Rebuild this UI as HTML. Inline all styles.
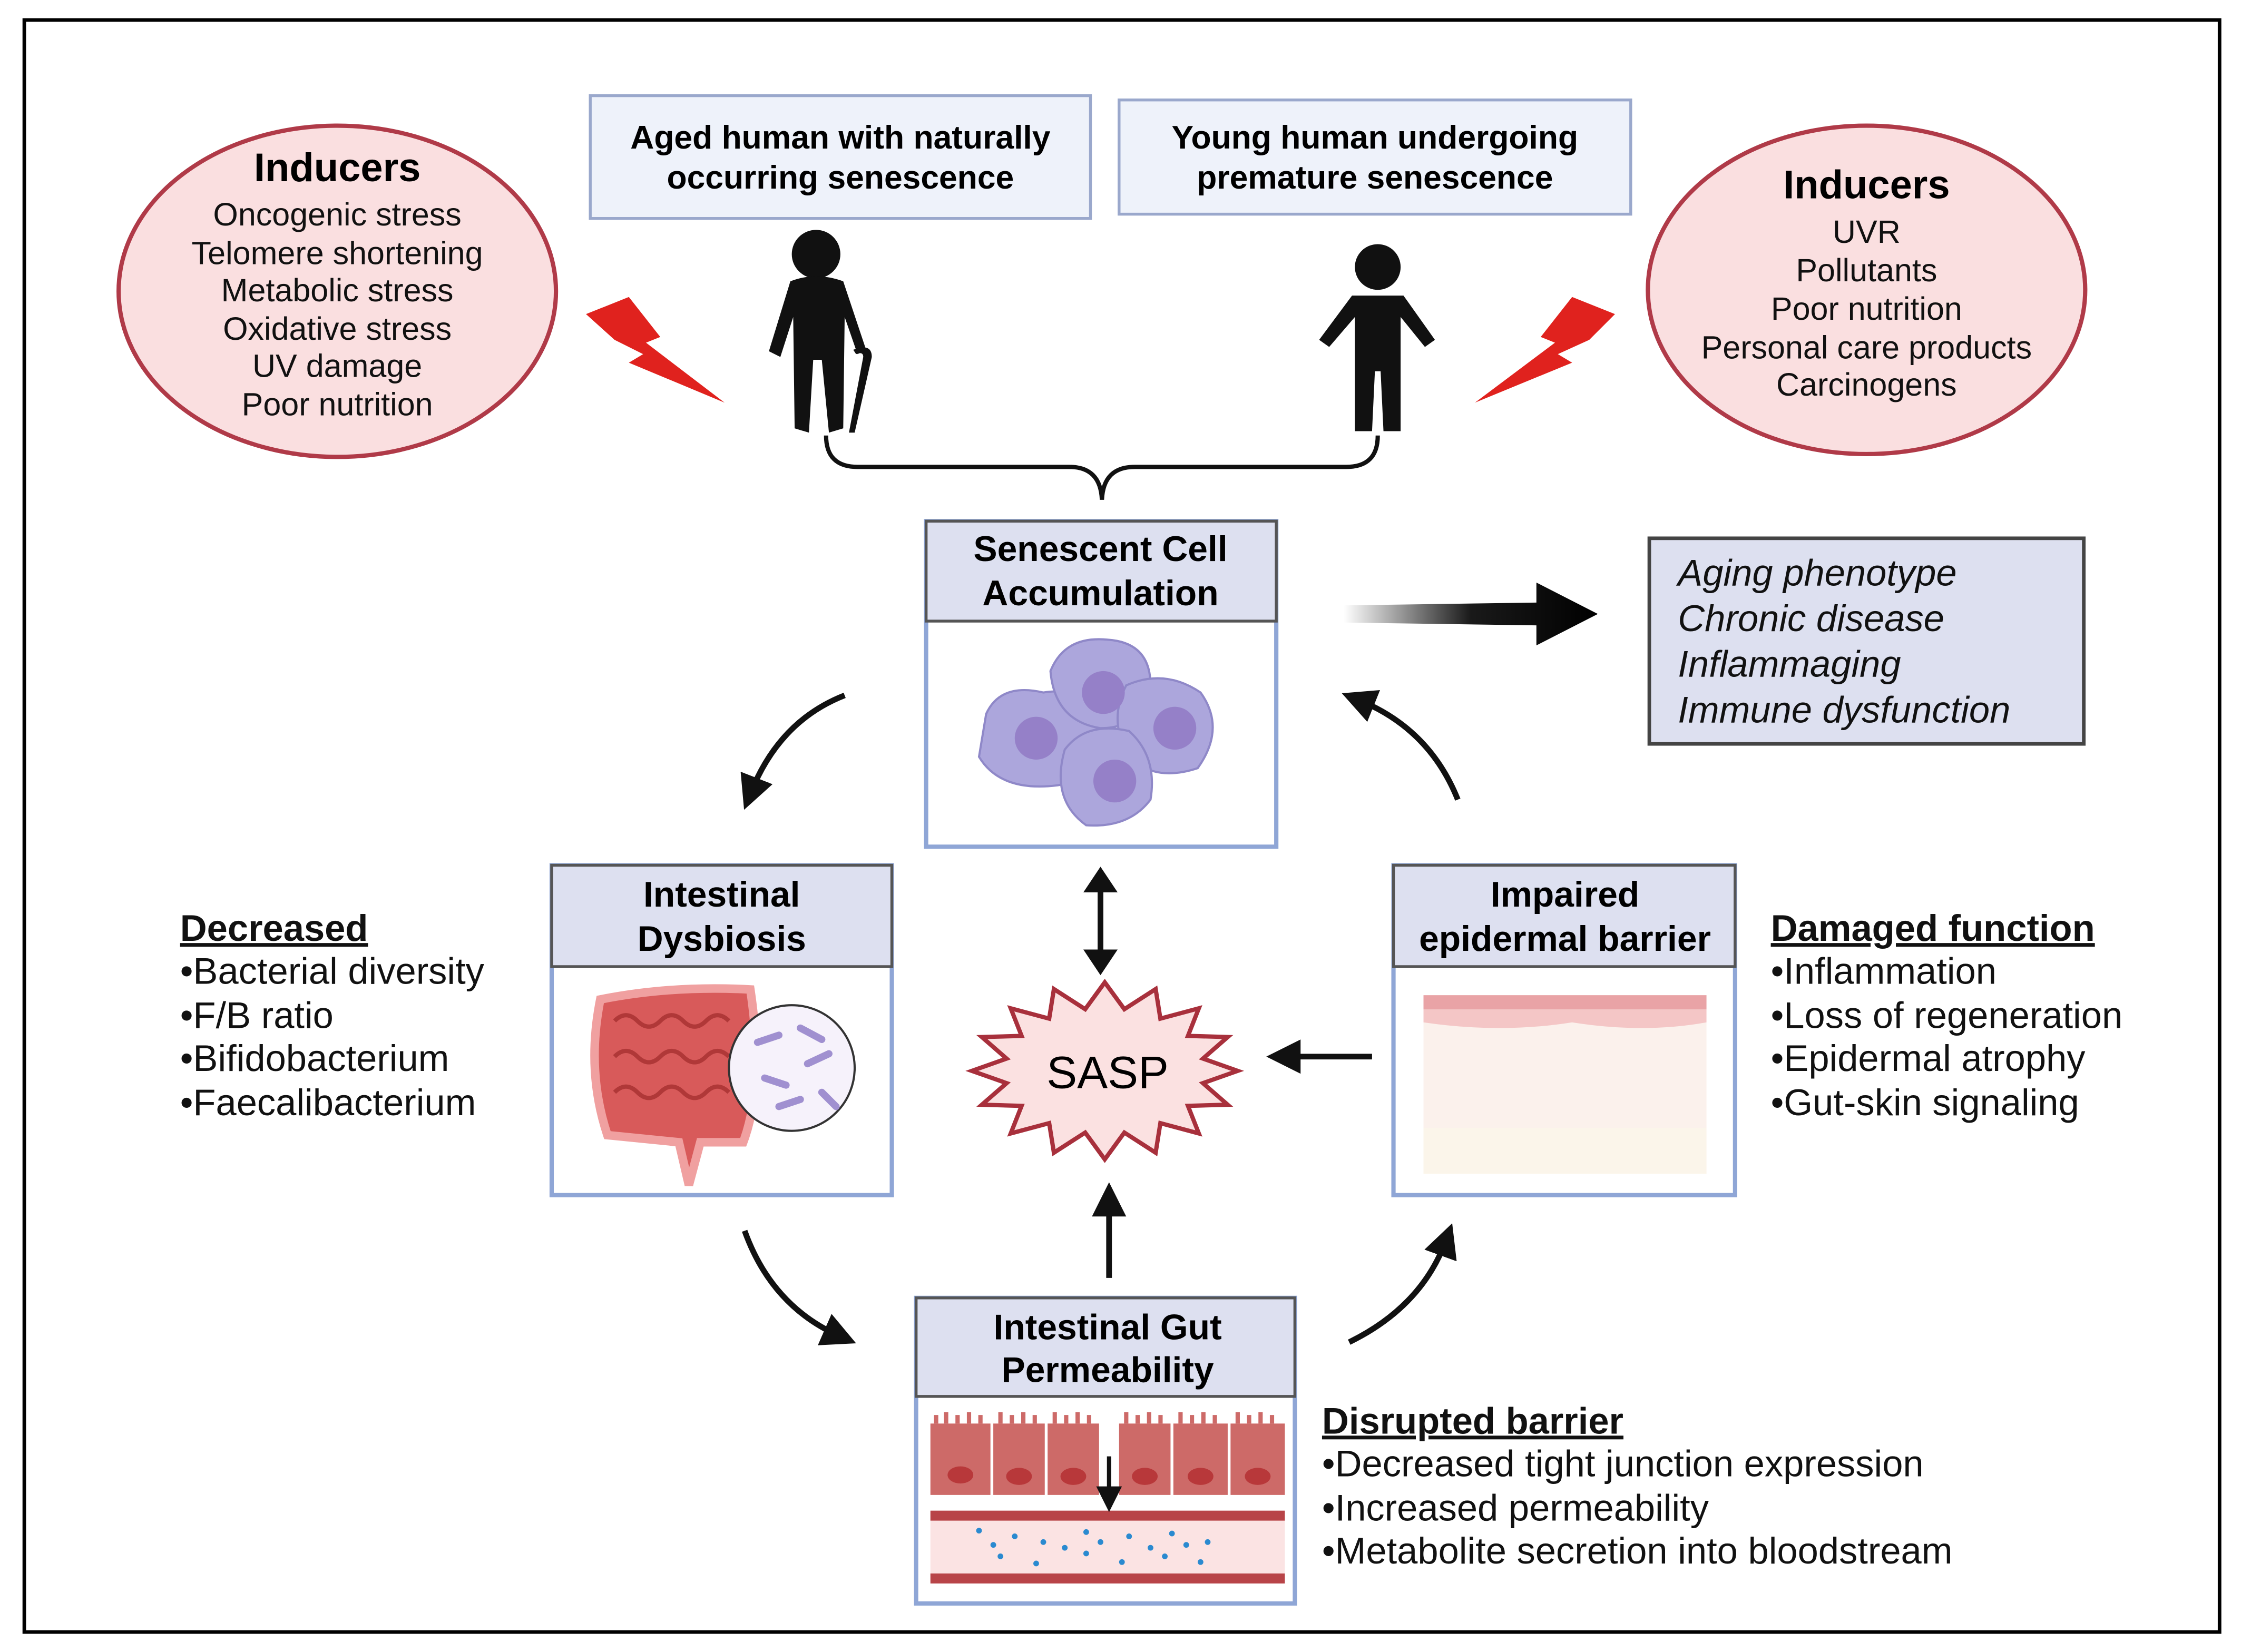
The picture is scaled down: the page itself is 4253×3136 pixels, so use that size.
<!DOCTYPE html>
<html><head><meta charset="utf-8">
<style>
html,body{margin:0;padding:0;background:#fff;}
svg{display:block;}
text{font-family:"Liberation Sans",sans-serif;}
</style></head>
<body>
<svg width="4253" height="3136" viewBox="0 0 1568 1157" preserveAspectRatio="none" xmlns="http://www.w3.org/2000/svg">
<defs>
<linearGradient id="ga" x1="0" x2="1" y1="0" y2="0">
<stop offset="0" stop-color="#000" stop-opacity="0"/>
<stop offset="0.5" stop-color="#000" stop-opacity="0.9"/>
<stop offset="1" stop-color="#000"/>
</linearGradient>
<marker id="ah" markerWidth="6" markerHeight="6" refX="3" refY="3" orient="auto" markerUnits="strokeWidth">
<path d="M0,0 L6,3 L0,6 z" fill="#111"/>
</marker>
</defs>
<rect x="0" y="0" width="1568" height="1157" fill="#fff"/>
<rect x="17" y="14" width="1536" height="1129" fill="none" stroke="#000" stroke-width="2.5"/>

<ellipse cx="236" cy="204" rx="153" ry="116" fill="#fadfe0" stroke="#b03a48" stroke-width="3"/>
<text x="236" y="127" font-size="28" font-weight="bold" text-anchor="middle">Inducers</text>
<g font-size="22.5" text-anchor="middle" fill="#111">
<text x="236" y="158">Oncogenic stress</text>
<text x="236" y="185">Telomere shortening</text>
<text x="236" y="211">Metabolic stress</text>
<text x="236" y="238">Oxidative stress</text>
<text x="236" y="264">UV damage</text>
<text x="236" y="291">Poor nutrition</text>
</g>
<ellipse cx="1306" cy="203" rx="153" ry="115" fill="#fadfe0" stroke="#b03a48" stroke-width="3"/>
<text x="1306" y="139" font-size="28" font-weight="bold" text-anchor="middle">Inducers</text>
<g font-size="22.5" text-anchor="middle" fill="#111">
<text x="1306" y="170">UVR</text>
<text x="1306" y="197">Pollutants</text>
<text x="1306" y="224">Poor nutrition</text>
<text x="1306" y="251">Personal care products</text>
<text x="1306" y="277">Carcinogens</text>
</g>

<rect x="413" y="67" width="350" height="86" fill="#eef2fa" stroke="#9aa8cc" stroke-width="2"/>
<text x="588" y="104" font-size="23" font-weight="bold" text-anchor="middle">Aged human with naturally</text>
<text x="588" y="132" font-size="23" font-weight="bold" text-anchor="middle">occurring senescence</text>
<rect x="783" y="70" width="358" height="80" fill="#eef2fa" stroke="#9aa8cc" stroke-width="2"/>
<text x="962" y="104" font-size="23" font-weight="bold" text-anchor="middle">Young human undergoing</text>
<text x="962" y="132" font-size="23" font-weight="bold" text-anchor="middle">premature senescence</text>

<polygon points="410,220 440,208 462,236 452,240 507,282 440,254 450,248 430,238" fill="#e0221e"/>
<polygon points="1130,220 1100,208 1078,236 1088,240 1032,282 1100,254 1090,248 1112,238" fill="#e0221e"/>

<g fill="#111">
<circle cx="571" cy="178" r="17"/>
<path d="M553,197 Q571,190 590,197 L606,245 L600,248 L591,222 L590,300 L580,303 L575,252 L569,252 L566,303 L556,300 L555,222 L546,250 L538,246 Z"/>
<path d="M597,245 Q610,240 610,250 L598,303 L594,303 L604,250 Q604,246 599,248 Z"/>
</g>
<g fill="#111">
<circle cx="964" cy="187" r="16"/>
<path d="M946,207 L982,207 L1004,238 L997,243 L980,222 L980,302 L968,302 L966,260 L962,260 L960,302 L948,302 L948,222 L930,243 L923,238 Z"/>
</g>

<path d="M578,305 Q578,327 600,327 L748,327 Q770,327 771,350 Q772,327 794,327 L942,327 Q964,327 964,305" fill="none" stroke="#111" stroke-width="3"/>

<rect x="648" y="365" width="245" height="228" fill="#fff" stroke="#8fa6d6" stroke-width="3"/>
<rect x="648" y="365" width="245" height="70" fill="#dde0f0" stroke="#555" stroke-width="2"/>
<text x="770" y="393" font-size="25" font-weight="bold" text-anchor="middle">Senescent Cell</text>
<text x="770" y="424" font-size="25" font-weight="bold" text-anchor="middle">Accumulation</text>
<g fill="#aca6dc" stroke="#8f88c8" stroke-width="1.5">
<path d="M690,500 Q700,478 730,485 Q760,480 768,510 Q770,545 740,550 Q700,555 685,530 Z"/>
<path d="M735,470 Q745,445 775,448 Q805,450 805,480 Q800,510 770,510 Q738,505 735,470 Z"/>
<path d="M788,480 Q815,468 840,485 Q858,510 838,538 Q808,548 790,530 Q775,505 788,480 Z"/>
<path d="M745,525 Q760,505 790,512 Q810,530 805,560 Q790,580 760,578 Q735,560 745,525 Z"/>
</g>
<g fill="#9580c8">
<circle cx="725" cy="517" r="15"/><circle cx="772" cy="485" r="15"/>
<circle cx="822" cy="510" r="15"/><circle cx="780" cy="547" r="15"/>
</g>

<rect x="1154" y="377" width="304" height="144" fill="#dde0f0" stroke="#444" stroke-width="2.5"/>
<g font-size="26" font-style="italic" fill="#111">
<text x="1174" y="410">Aging phenotype</text>
<text x="1174" y="442">Chronic disease</text>
<text x="1174" y="474">Inflammaging</text>
<text x="1174" y="506">Immune dysfunction</text>
</g>
<polygon points="940,424 1075,422 1075,408 1118,430 1075,452 1075,438 940,436" fill="url(#ga)"/>

<rect x="386" y="606" width="238" height="231" fill="#fff" stroke="#8fa6d6" stroke-width="3"/>
<rect x="386" y="606" width="238" height="71" fill="#dde0f0" stroke="#555" stroke-width="2"/>
<text x="505" y="635" font-size="25" font-weight="bold" text-anchor="middle">Intestinal</text>
<text x="505" y="666" font-size="25" font-weight="bold" text-anchor="middle">Dysbiosis</text>
<path d="M420,700 Q470,690 525,693 Q535,760 520,800 L490,800 L482,830 L475,800 L425,795 Q410,750 420,700 Z" fill="#d85a5a" stroke="#f0a0a0" stroke-width="6"/>
<g stroke="#b03838" stroke-width="3" fill="none">
<path d="M430,715 q8,-8 16,0 t16,0 t16,0 t16,0 t16,0"/>
<path d="M430,740 q8,-8 16,0 t16,0 t16,0 t16,0 t16,0"/>
<path d="M430,765 q8,-8 16,0 t16,0 t16,0 t16,0 t16,0"/>
</g>
<circle cx="554" cy="748" r="44" fill="#f6f2fb" stroke="#333" stroke-width="1.5"/>
<g stroke="#a090d0" stroke-width="5" stroke-linecap="round">
<line x1="530" y1="730" x2="545" y2="725"/><line x1="560" y1="720" x2="575" y2="728"/>
<line x1="535" y1="755" x2="550" y2="760"/><line x1="565" y1="745" x2="580" y2="738"/>
<line x1="545" y1="775" x2="560" y2="770"/><line x1="575" y1="765" x2="585" y2="775"/>
</g>

<rect x="975" y="606" width="239" height="231" fill="#fff" stroke="#8fa6d6" stroke-width="3"/>
<rect x="975" y="606" width="239" height="71" fill="#dde0f0" stroke="#555" stroke-width="2"/>
<text x="1095" y="635" font-size="25" font-weight="bold" text-anchor="middle">Impaired</text>
<text x="1095" y="666" font-size="25" font-weight="bold" text-anchor="middle">epidermal barrier</text>
<rect x="996" y="697" width="198" height="125" fill="#fbf1ec"/>
<rect x="996" y="697" width="198" height="10" fill="#e9a3a6"/>
<path d="M996,707 L1194,707 L1194,716 Q1150,724 1100,716 Q1050,724 996,716 Z" fill="#f4c6c6"/>
<rect x="996" y="790" width="198" height="32" fill="#fbf5ea"/>

<polygon points="866,750 841.7,758.6 859,773.7 831.2,774.5 838.8,793.8 811.9,786.6 808.6,807.3 786.7,793.2 773,812 759.3,793.2 737.4,807.3 734.1,786.6 707.2,793.8 714.8,774.5 687,773.7 704.3,758.6 680,750 704.3,741.4 687,726.3 714.8,725.5 707.2,706.2 734.1,713.4 737.4,692.7 759.3,706.8 773,688 786.7,706.8 808.6,692.7 811.9,713.4 838.8,706.2 831.2,725.5 859,726.3 841.7,741.4" fill="#fbe1e1" stroke="#a8303c" stroke-width="3"/>
<text x="775" y="762" font-size="32" text-anchor="middle">SASP</text>

<rect x="641" y="909" width="265" height="214" fill="#fff" stroke="#8fa6d6" stroke-width="3"/>
<rect x="641" y="909" width="265" height="69" fill="#dde0f0" stroke="#555" stroke-width="2"/>
<text x="775" y="938" font-size="25" font-weight="bold" text-anchor="middle">Intestinal Gut</text>
<text x="775" y="968" font-size="25" font-weight="bold" text-anchor="middle">Permeability</text>
<g fill="#cd6a68">
<rect x="651" y="997" width="42" height="50"/><rect x="695" y="997" width="36" height="50"/><rect x="733" y="997" width="36" height="50"/>
<rect x="783" y="997" width="36" height="50"/><rect x="821" y="997" width="38" height="50"/><rect x="861" y="997" width="38" height="50"/>
</g>
<g stroke="#cd6a68" stroke-width="3">
<path d="M655,997 v-6 M662,997 v-8 M670,997 v-6 M678,997 v-8 M686,997 v-6 M700,997 v-8 M708,997 v-6 M716,997 v-8 M724,997 v-6 M738,997 v-8 M746,997 v-6 M754,997 v-8 M762,997 v-6 M788,997 v-8 M796,997 v-6 M804,997 v-8 M812,997 v-6 M826,997 v-8 M834,997 v-6 M842,997 v-8 M850,997 v-6 M866,997 v-8 M874,997 v-6 M882,997 v-8 M890,997 v-6"/>
</g>
<g fill="#b8383a">
<ellipse cx="672" cy="1033" rx="9" ry="6"/><ellipse cx="713" cy="1034" rx="9" ry="6"/><ellipse cx="751" cy="1034" rx="9" ry="6"/>
<ellipse cx="801" cy="1034" rx="9" ry="6"/><ellipse cx="840" cy="1034" rx="9" ry="6"/><ellipse cx="880" cy="1034" rx="9" ry="6"/>
</g>
<rect x="651" y="1060" width="248" height="48" fill="#fbe3e3"/>
<rect x="651" y="1058" width="248" height="7" fill="#b84448"/>
<rect x="651" y="1102" width="248" height="7" fill="#b84448"/>
<g fill="#2a8ad0">
<circle cx="685" cy="1072" r="2"/><circle cx="710" cy="1076" r="2"/><circle cx="730" cy="1080" r="2"/><circle cx="760" cy="1073" r="2"/><circle cx="790" cy="1076" r="2"/><circle cx="820" cy="1074" r="2"/><circle cx="845" cy="1080" r="2"/>
<circle cx="700" cy="1090" r="2"/><circle cx="725" cy="1095" r="2"/><circle cx="760" cy="1088" r="2"/><circle cx="785" cy="1094" r="2"/><circle cx="815" cy="1090" r="2"/><circle cx="840" cy="1094" r="2"/>
<circle cx="695" cy="1082" r="2"/><circle cx="745" cy="1084" r="2"/><circle cx="770" cy="1080" r="2"/><circle cx="805" cy="1084" r="2"/><circle cx="830" cy="1082" r="2"/>
</g>
<line x1="776" y1="1020" x2="776" y2="1050" stroke="#111" stroke-width="3" marker-end="url(#ah)"/>

<g stroke="#111" stroke-width="4" fill="none" marker-end="url(#ah)">
<path d="M591,487 Q545,505 525,556"/>
<path d="M1020,560 Q1000,510 950,490"/>
<path d="M521,862 Q540,915 588,936"/>
<path d="M944,940 Q995,915 1012,868"/>
<line x1="960" y1="740" x2="898" y2="740"/>
<line x1="776" y1="895" x2="776" y2="840"/>
</g>
<line x1="770" y1="622" x2="770" y2="668" stroke="#111" stroke-width="4"/>
<polygon points="770,607 782,625 758,625" fill="#111"/>
<polygon points="770,683 782,665 758,665" fill="#111"/>

<g font-size="26" fill="#111">
<text x="126" y="659" font-weight="bold" text-decoration="underline">Decreased</text>
<text x="126" y="689">•Bacterial diversity</text>
<text x="126" y="720">•F/B ratio</text>
<text x="126" y="750">•Bifidobacterium</text>
<text x="126" y="781">•Faecalibacterium</text>
<text x="1239" y="659" font-weight="bold" text-decoration="underline">Damaged function</text>
<text x="1239" y="689">•Inflammation</text>
<text x="1239" y="720">•Loss of regeneration</text>
<text x="1239" y="750">•Epidermal atrophy</text>
<text x="1239" y="781">•Gut-skin signaling</text>
<text x="925" y="1004" font-weight="bold" text-decoration="underline">Disrupted barrier</text>
<text x="925" y="1034">•Decreased tight junction expression</text>
<text x="925" y="1065">•Increased permeability</text>
<text x="925" y="1095">•Metabolite secretion into bloodstream</text>
</g>
</svg>
</body></html>
